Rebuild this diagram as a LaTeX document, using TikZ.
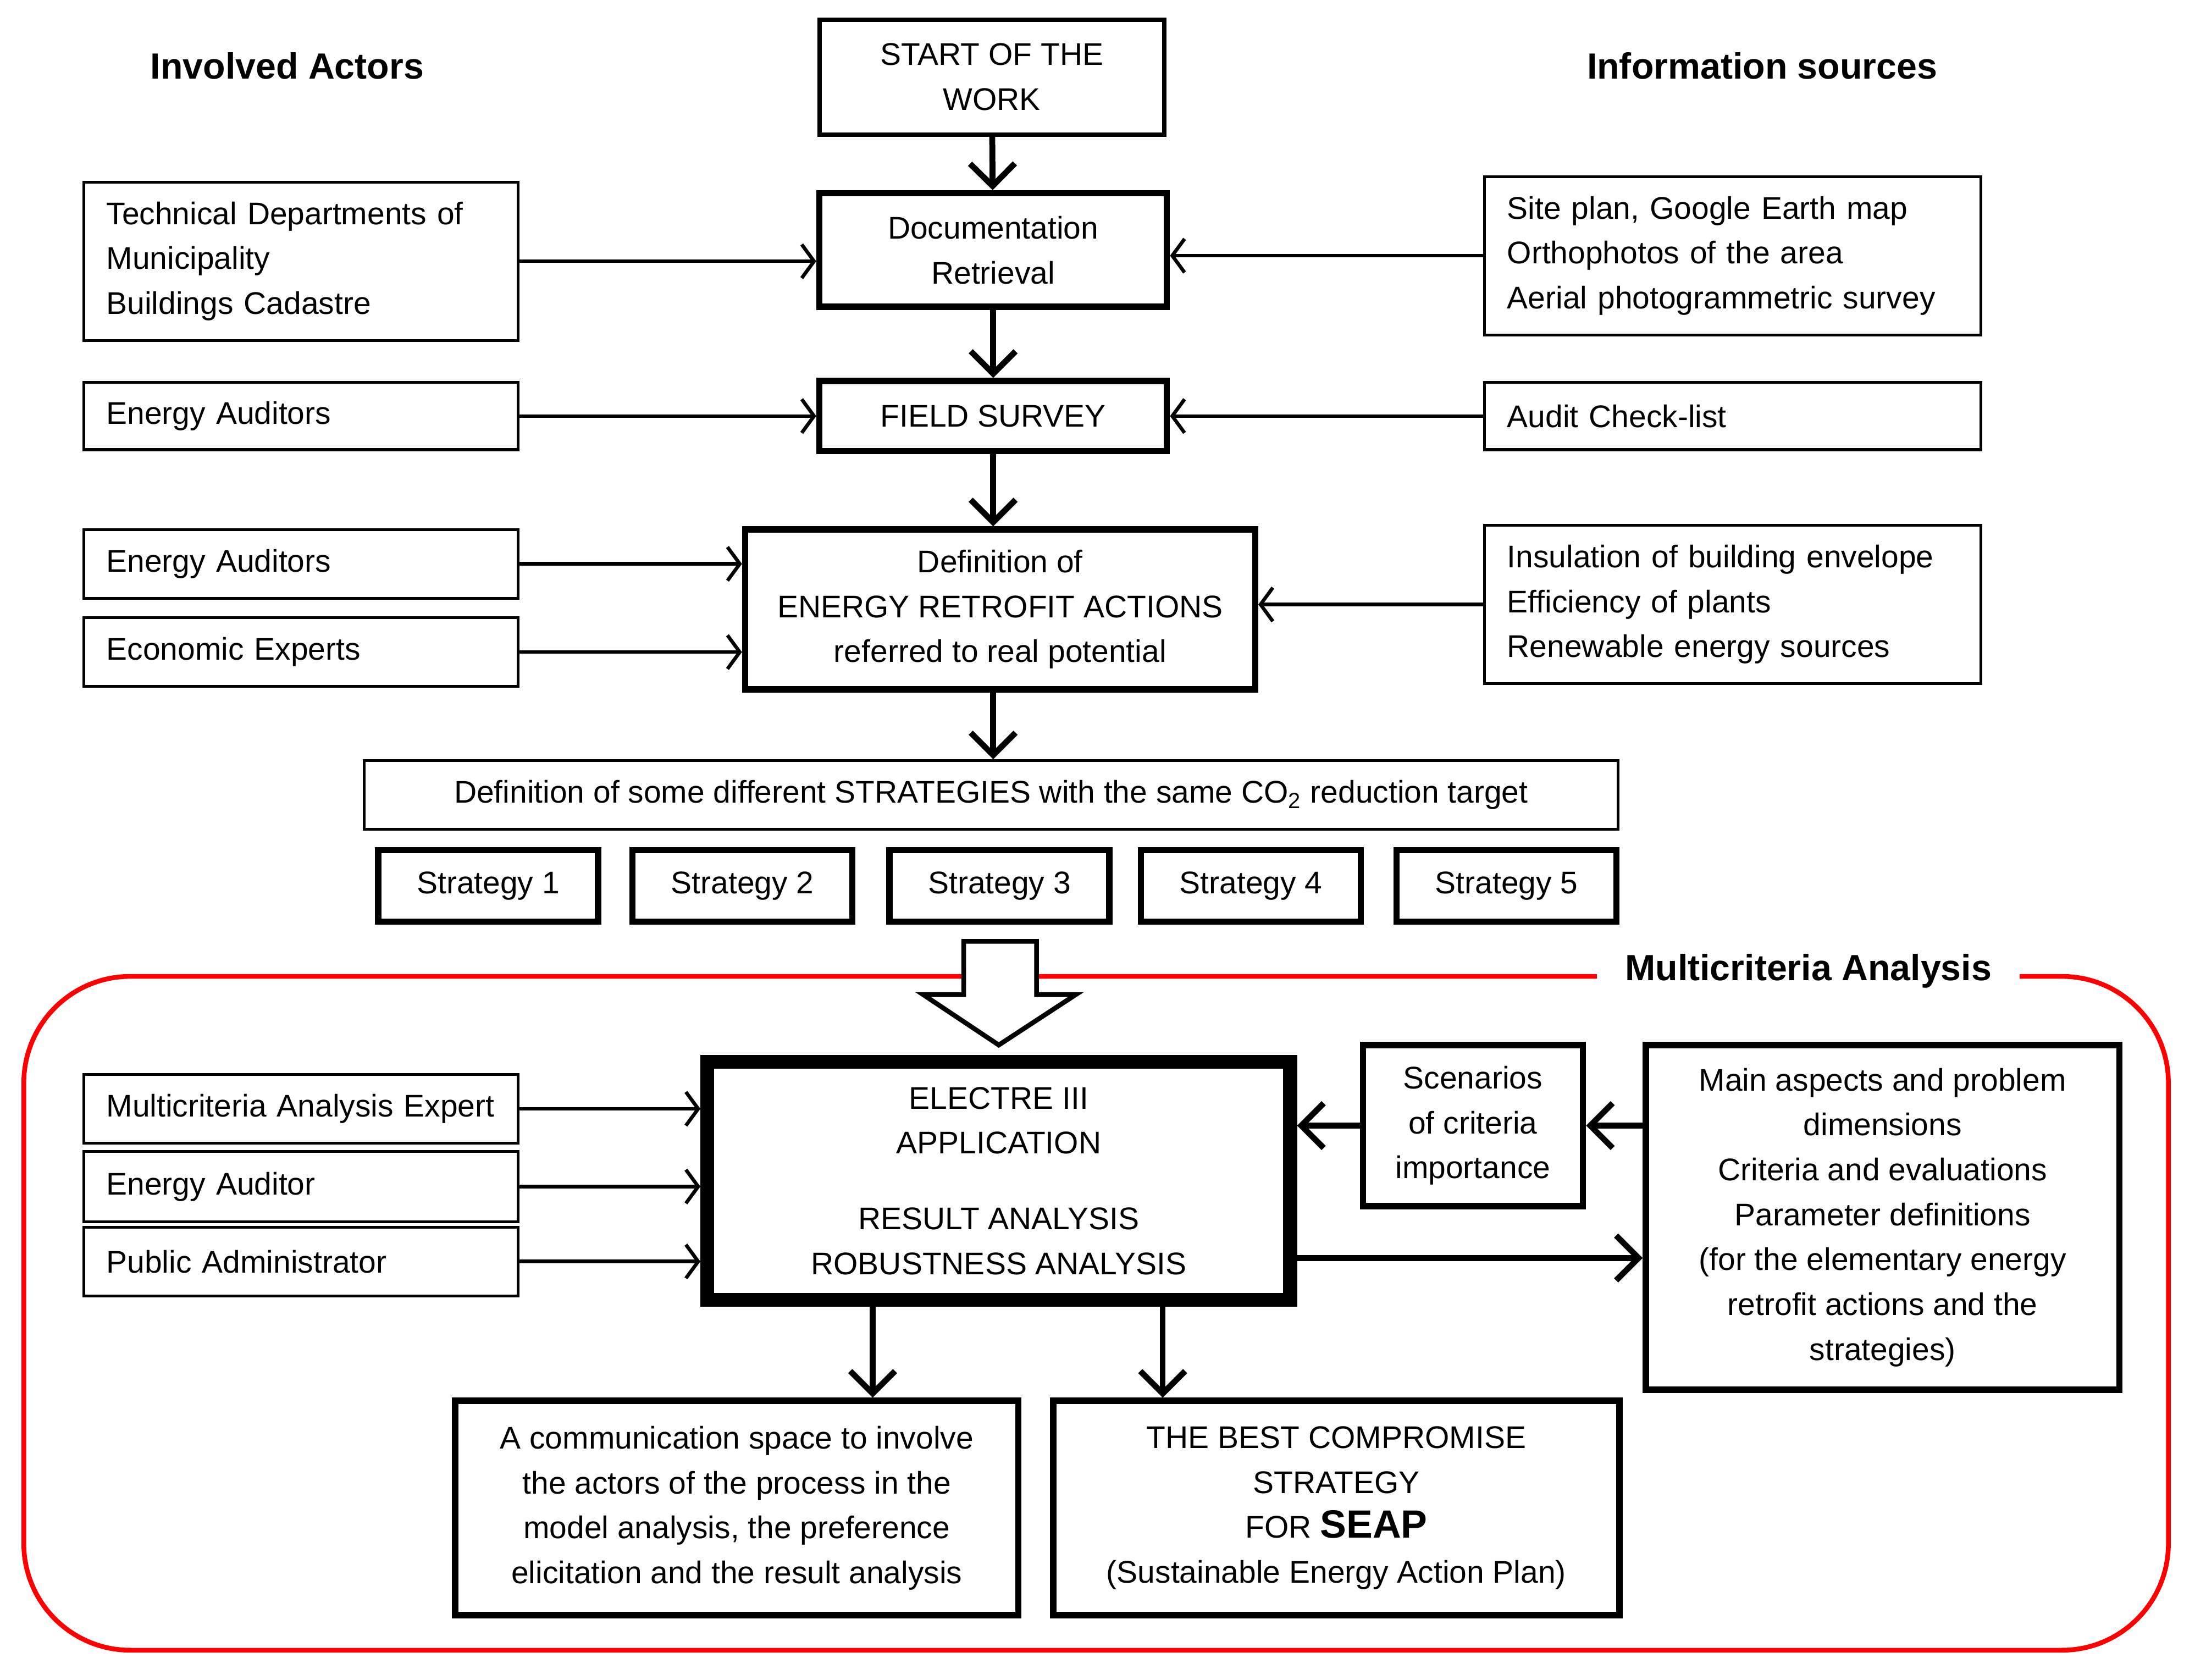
\documentclass[tikz,border=0pt]{standalone}
\usepackage{fontspec}
\setmainfont{Liberation Sans}
\usepackage{tikz}
\usetikzlibrary{arrows.meta}
\tikzset{
  every node/.style={font=\fontsize{15.9}{22.8}\selectfont},
  hdr/.style={font=\bfseries\fontsize{18.5}{22}\selectfont},
  actor/.style={draw, line width=1.4pt, align=left, text width=6.95cm, inner xsep=0.4cm, inner ysep=0pt},
  src/.style={draw, line width=1.4pt, align=left, text width=8.05cm, inner xsep=0.4cm, inner ysep=0pt},
  thinbox/.style={draw, line width=1.4pt, align=center, inner sep=0pt},
  stepbox/.style={draw, line width=3.2pt, align=center, inner sep=0pt},
  thnarr/.style={line width=1.8pt, -{Straight Barb[length=0.22cm, width=0.6cm]}},
  thkarr/.style={line width=3pt, -{Straight Barb[length=0.4cm, width=0.8cm]}}
}

\begin{document}
\begin{tikzpicture}[x=0.025cm, y=-0.025cm]
\useasboundingbox (0,0) rectangle (1567,1198.9);

% headings
\node (actors) [hdr] at (205,47) {Involved Actors};
\node (sources) [hdr] at (1258,47) {Information sources};

% red frame of the multicriteria part
\draw[red, line width=2.4pt, rounded corners=1.9cm] (17,697) rectangle (1548,1178);
\node (mclabel) [hdr, fill=white, inner xsep=0.5cm] at (1291,693) {Multicriteria Analysis};
\draw[line width=2.4pt, fill=white] (688,672) -- (740,672) -- (740,710) -- (768,710) -- (713,746) -- (659,710) -- (688,710) -- cycle;

% main column
\node (start) [stepbox, line width=2.2pt, minimum width=6.15cm, minimum height=2.05cm] at (708,55) {START OF THE\\WORK};
\node (docret) [stepbox, minimum width=6.2cm, minimum height=2.025cm] at (709,178.5) {Documentation\\Retrieval};
\node (field) [stepbox, minimum width=6.2cm, minimum height=1.25cm] at (709,297) {FIELD SURVEY};
\node (defin) [stepbox, minimum width=9.1cm, minimum height=2.85cm] at (714,435) {Definition of\\ENERGY RETROFIT ACTIONS\\referred to real potential};
\node (strat) [thinbox, minimum width=22.375cm, minimum height=1.225cm] at (707.5,567.5) {Definition of some different STRATEGIES with the same CO\textsubscript{2} reduction target};
\foreach \i/\x in {1/348.5, 2/530, 3/713.5, 4/893, 5/1075.5}
  \node (s\i) [stepbox, minimum width=3.925cm, minimum height=1.275cm] at (\x,632.5) {Strategy \i};

% actors
\node (techdep) [actor, minimum height=2.825cm] at (215,186.5) {Technical Departments of\\Municipality\\Buildings Cadastre};
\node (aud1) [actor, minimum height=1.2cm] at (215,297) {Energy Auditors};
\node (aud2) [actor, minimum height=1.225cm] at (215,402.5) {Energy Auditors};
\node (econ) [actor, minimum height=1.225cm] at (215,465.5) {Economic Experts};

% sources
\node (maps) [src, minimum height=2.825cm] at (1237,182.5) {Site plan, Google Earth map\\Orthophotos of the area\\Aerial photogrammetric survey};
\node (check) [src, minimum height=1.2cm] at (1237,297) {Audit Check-list};
\node (insul) [src, minimum height=2.825cm] at (1237,431.5) {Insulation of building envelope\\Efficiency of plants\\Renewable energy sources};

\draw[thkarr] (start) -- (docret);
\draw[thkarr] (docret) -- (field);
\draw[thkarr] (field.south) -- (field.south |- defin.north);
\draw[thkarr] (field.south |- defin.south) -- (field.south |- strat.north);
\draw[thnarr] (techdep.east) -- (techdep.east -| docret.west);
\draw[thnarr] (maps.west) -- (maps.west -| docret.east);
\draw[thnarr] (aud1) -- (field);
\draw[thnarr] (check) -- (field);
\draw[thnarr] (aud2.east) -- (aud2.east -| defin.west);
\draw[thnarr] (econ.east) -- (econ.east -| defin.west);
\draw[thnarr] (insul.west) -- (insul.west -| defin.east);

% multicriteria analysis
\node (electre) [stepbox, line width=7pt, minimum width=10.4cm, minimum height=4.25cm] at (713,843) {ELECTRE III\\APPLICATION\\[0.55cm]RESULT ANALYSIS\\ROBUSTNESS ANALYSIS};
\node (mcexp) [actor, minimum height=1.225cm] at (215,791.5) {Multicriteria Analysis Expert};
\node (enaud) [actor, minimum height=1.25cm] at (215,847) {Energy Auditor};
\node (padm) [actor, minimum height=1.225cm] at (215,900.5) {Public Administrator};
\node (scen) [stepbox, minimum width=3.925cm, minimum height=2.875cm] at (1051.5,803.5) {Scenarios\\of criteria\\importance};
\node (mainasp) [stepbox, minimum width=8.45cm, minimum height=6.15cm] at (1344,869) {Main aspects and problem\\dimensions\\Criteria and evaluations\\Parameter definitions\\(for the elementary energy\\retrofit actions and the\\strategies)};
\node (comm) [stepbox, minimum width=10.05cm, minimum height=3.825cm] at (526,1076.5) {A communication space to involve\\the actors of the process in the\\model analysis, the preference\\elicitation and the result analysis};
\node (best) [stepbox, minimum width=10.1cm, minimum height=3.825cm] at (954,1076.5) {THE BEST COMPROMISE\\STRATEGY\\FOR {\bfseries\fontsize{20}{22}\selectfont SEAP}\\(Sustainable Energy Action Plan)};

\coordinate (eout) at ([yshift=-1.375cm]electre.east);
\coordinate (dl) at ([xshift=-2.25cm]electre.south);
\coordinate (dr) at ([xshift=2.925cm]electre.south);

\draw[thnarr] (mcexp.east) -- (mcexp.east -| electre.west);
\draw[thnarr] (enaud.east) -- (enaud.east -| electre.west);
\draw[thnarr] (padm.east) -- (padm.east -| electre.west);
\draw[thkarr] (scen.west) -- (scen.west -| electre.east);
\draw[thkarr] (scen.east -| mainasp.west) -- (scen.east);
\draw[thkarr] (eout) -- (eout -| mainasp.west);
\draw[thkarr] (dl) -- (dl |- comm.north);
\draw[thkarr] (dr) -- (dr |- best.north);

\end{tikzpicture}
\end{document}
